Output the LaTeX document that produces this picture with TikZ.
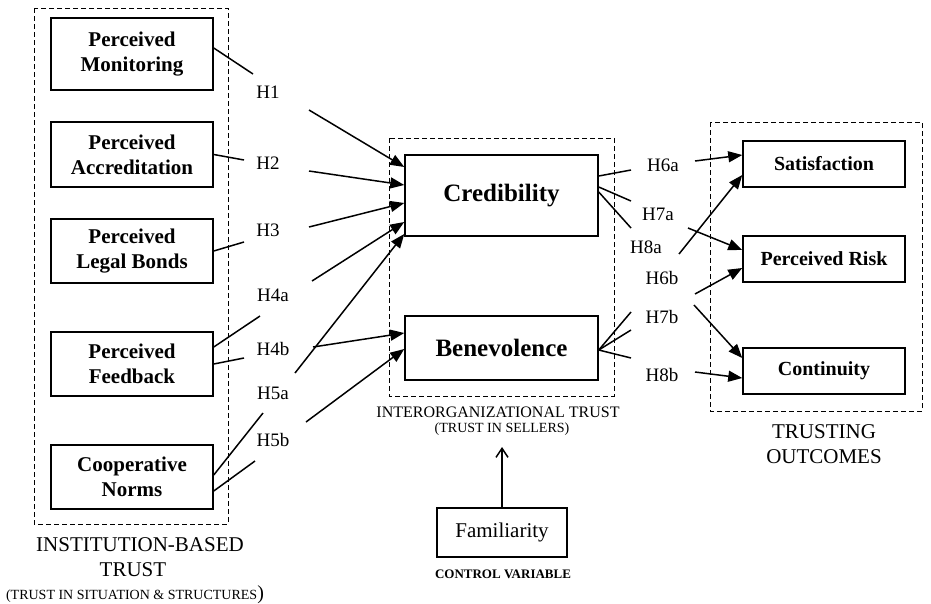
\documentclass[tikz,border=0pt]{standalone}
\usepackage{fontspec}
\setmainfont{Liberation Serif}
\usetikzlibrary{arrows.meta,calc}
\begin{document}
\begin{tikzpicture}[x=1pt,y=-1pt,
  box/.style={draw,line width=1.5pt,inner sep=0pt,align=center,font=\fontsize{21}{25}\selectfont\bfseries},
  bigbox/.style={box,font=\fontsize{25}{29}\selectfont\bfseries},
  rbox/.style={box,font=\fontsize{20}{24}\selectfont\bfseries},
  grp/.style={draw,line width=1pt,dash pattern=on 5pt off 3pt},
  hl/.style={font=\fontsize{19}{22}\selectfont,inner sep=0pt},
  captxt/.style={font=\fontsize{21}{25}\selectfont,inner sep=0pt,align=center},
  ln/.style={line width=1.5pt},
  arr/.style={line width=1.5pt,-{Triangle[length=14pt,width=11pt]}},
  oarr/.style={line width=1.5pt,-{Straight Barb[length=9pt,width=12pt]}},
]
\useasboundingbox (0,0) rectangle (931,603);

% group frames
\draw[grp] (34,8) rectangle (228,524);
\draw[grp] (389,138) rectangle (614,396);
\draw[grp] (710,122) rectangle (922,411);

% left boxes
\node[box,minimum width=162pt,minimum height=72pt] (mon) at (132,54) {Perceived\\Monitoring};
\node[box,minimum width=162pt,minimum height=65pt] (acc) at (132,154.5) {Perceived\\Accreditation};
\node[box,minimum width=162pt,minimum height=64pt] (leg) at (132,251) {Perceived\\Legal Bonds};
\node[box,minimum width=162pt,minimum height=64pt] (feed) at (132,364) {Perceived\\Feedback};
\node[box,minimum width=162pt,minimum height=64pt] (norm) at (132,477) {Cooperative\\Norms};

% middle boxes
\node[bigbox,minimum width=193pt,minimum height=81pt] (cred) at (501.5,195.5) {Credibility};
\node[bigbox,minimum width=193pt,minimum height=64pt] (bene) at (501.5,348) {Benevolence};
\node[box,font=\fontsize{21}{25}\selectfont,minimum width=130pt,minimum height=49pt] (fam) at (502,532.5) {Familiarity};

% right boxes
\node[rbox,minimum width=162pt,minimum height=46pt] (sat) at (824,164) {Satisfaction};
\node[rbox,minimum width=162pt,minimum height=46pt] (risk) at (824,259) {Perceived Risk};
\node[rbox,minimum width=162pt,minimum height=46pt] (cont) at (824,371) {Continuity};

% captions
\node[captxt] (capl1) at (140,545) {INSTITUTION-BASED};
\node[captxt] (capl2) at (133,570) {TRUST};
\node[captxt,font=\fontsize{14}{16}\selectfont] (capl3) at (135,595) {(TRUST IN SITUATION \& STRUCTURES{\fontsize{20}{22}\selectfont)}};
\node[captxt,font=\fontsize{16}{18}\selectfont] (capm1) at (498,412) {INTERORGANIZATIONAL TRUST};
\node[captxt,font=\fontsize{14}{16}\selectfont] (capm2) at (502,429) {(TRUST IN SELLERS)};
\node[captxt,font=\fontsize{13}{15}\selectfont\bfseries] (capf) at (503,574) {CONTROL VARIABLE};
\node[captxt] (capr1) at (824,432) {TRUSTING};
\node[captxt] (capr2) at (824,457) {OUTCOMES};

% hypothesis labels
\node[hl] (H1) at (268,92) {H1};
\node[hl] (H2) at (268,163) {H2};
\node[hl] (H3) at (268,230) {H3};
\node[hl] (H4a) at (273,295) {H4a};
\node[hl] (H4b) at (273,349) {H4b};
\node[hl] (H5a) at (273,393) {H5a};
\node[hl] (H5b) at (273,440) {H5b};
\node[hl] (H6a) at (663,165) {H6a};
\node[hl] (H7a) at (658,214) {H7a};
\node[hl] (H8a) at (646,247) {H8a};
\node[hl] (H6b) at (662,278) {H6b};
\node[hl] (H7b) at (662,317) {H7b};
\node[hl] (H8b) at (662,375) {H8b};

% free ends
\coordinate (h1a) at (253,74);   \coordinate (h1b) at (309,110);
\coordinate (h2a) at (244,160);  \coordinate (h2b) at (309,171);
\coordinate (h3a) at (244,242);  \coordinate (h3b) at (309,227);
\coordinate (h4aa) at (260,316); \coordinate (h4ab) at (312,281);
\coordinate (h4ba) at (244,358); \coordinate (h4bb) at (313,347);
\coordinate (h5aa) at (263,413); \coordinate (h5ab) at (295,373);
\coordinate (h5ba) at (255,461); \coordinate (h5bb) at (306,422);
\coordinate (c6a) at (631,170);  \coordinate (c7a) at (631,201); \coordinate (c8a) at (631,228);
\coordinate (b6b) at (631,312);  \coordinate (b7b) at (631,330); \coordinate (b8b) at (631,358);
\coordinate (s6a) at (695,161);  \coordinate (s7a) at (688,228); \coordinate (s6b) at (679,254);
\coordinate (s7b) at (695,294);  \coordinate (s8a) at (694,305); \coordinate (s8b) at (695,372);
\coordinate (famtop) at (502,447);

% left connectors
\draw[ln] ([yshift=6pt]mon.east) -- (h1a);
\draw[arr] (h1b) -- ([yshift=28.5pt]cred.west);
\draw[ln] (acc.east) -- (h2a);
\draw[arr] (h2b) -- ([yshift=10.5pt]cred.west);
\draw[ln] (leg.east) -- (h3a);
\draw[arr] (h3b) -- ([yshift=-7.5pt]cred.west);
\draw[ln] ([yshift=17pt]feed.east) -- (h4aa);
\draw[arr] (h4ab) -- ([yshift=-26.5pt]cred.west);
\draw[ln] (feed.east) -- (h4ba);
\draw[arr] (h4bb) -- ([yshift=15pt]bene.west);
\draw[ln] ([yshift=2pt]norm.east) -- (h5aa);
\draw[arr] (h5ab) -- ([yshift=-38.5pt]cred.west);
\draw[ln] ([yshift=-14pt]norm.east) -- (h5ba);
\draw[arr] (h5bb) -- ([yshift=-1pt]bene.west);

% right connectors
\draw[ln] ([yshift=19.5pt]cred.east) -- (c6a);
\draw[ln] ([yshift=8.5pt]cred.east) -- (c7a);
\draw[ln] ([yshift=3.5pt]cred.east) -- (c8a);
\draw[ln] ([yshift=-2pt]bene.east) -- (b6b);
\draw[ln] ([yshift=-2pt]bene.east) -- (b7b);
\draw[ln] ([yshift=-2pt]bene.east) -- (b8b);
\draw[arr] (s6a) -- ([yshift=9pt]sat.west);
\draw[arr] (s6b) -- ([yshift=-11pt]sat.west);
\draw[arr] (s7a) -- ([yshift=9pt]risk.west);
\draw[arr] (s7b) -- ([yshift=-9pt]risk.west);
\draw[arr] (s8a) -- ([yshift=13pt]cont.west);
\draw[arr] (s8b) -- ([yshift=-7pt]cont.west);

% control variable
\draw[oarr] (fam.north) -- (famtop);
\end{tikzpicture}
\end{document}
